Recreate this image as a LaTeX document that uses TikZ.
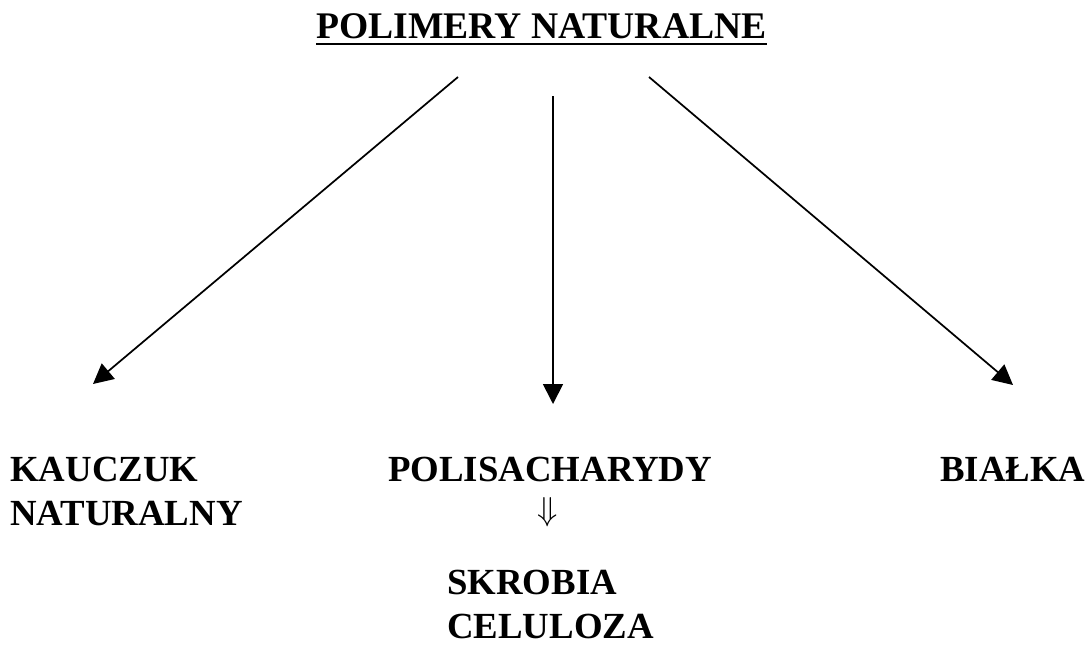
\documentclass[tikz,border=0pt]{standalone}
\usepackage{fontspec}
\setmainfont{Liberation Serif}
\usepackage{amsmath,amssymb}
\usetikzlibrary{arrows.meta, positioning}

\begin{document}
\begin{tikzpicture}[
  x=0.75pt, y=-0.75pt,
  >={Triangle[length=15pt, width=15pt]},
  branch/.style={->, line width=1.3pt},
  term/.style={font=\fontsize{27.6}{32.5}\selectfont\bfseries, inner sep=0pt, anchor=base west, align=left}
]
  \useasboundingbox (0,0) rectangle (1087,646);

  \node[term, font=\fontsize{28.2}{33}\selectfont\bfseries] (title) at (316,38) {POLIMERY NATURALNE};
  \draw[line width=2.2pt] ([yshift=-4.5pt]title.base west) -- ([yshift=-4.5pt]title.base east);

  \node[term] (kauczuk) at (10,525) {KAUCZUK\\NATURALNY};
  \node[term] (polisach) at (388,481) {POLISACHARYDY};
  \node[term] (bialka) at (940,481) {BIAŁKA};
  \node[font=\fontsize{36}{36}\selectfont, inner sep=0pt, anchor=base] (then) at (548,520) {$\Downarrow$};
  \node[term] (skrobia) at (447,638) {SKROBIA\\CELULOZA};

  % arrow ends
  \coordinate (l-start) at (458,77);
  \coordinate (l-tip) at (93,384);
  \coordinate (m-start) at (553,96);
  \coordinate (m-tip) at (553,404);
  \coordinate (r-start) at (649,77);
  \coordinate (r-tip) at (1013,385);

  \draw[branch] (l-start) -- (l-tip);
  \draw[branch] (m-start) -- (m-tip);
  \draw[branch] (r-start) -- (r-tip);
\end{tikzpicture}
\end{document}
